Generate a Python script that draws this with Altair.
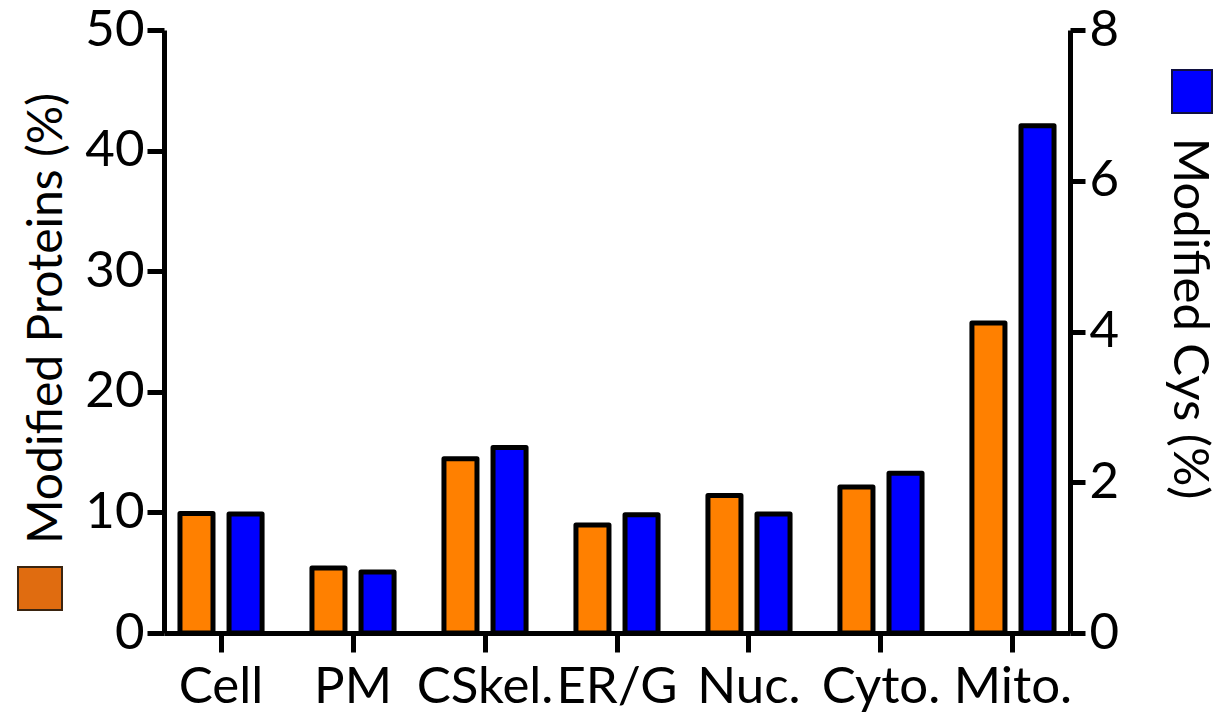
import altair as alt
import pandas as pd

categories = ["Cell", "PM", "CSkel.", "ER/G", "Nuc.", "Cyto.", "Mito."]
modified_proteins = [9.9, 5.4, 14.45, 8.95, 11.4, 12.1, 25.7]   # left axis, %
modified_cys = [1.58, 0.81, 2.46, 1.57, 1.58, 2.12, 6.73]        # right axis, %
left_ticks = [0, 10, 20, 30, 40, 50]
right_ticks = [0, 2, 4, 6, 8]

FONT = "Lato"
ORANGE = "#FF8000"
BLUE = "#0000FF"
LABEL_SIZE = 51
TITLE_SIZE = 48

rows = []
for c, p, y in zip(categories, modified_proteins, modified_cys):
    rows.append({"cat": c, "series": "P", "value": p})
    rows.append({"cat": c, "series": "C", "value": y})
df = pd.DataFrame(rows)

W, H = 906, 603

x_enc = alt.X("cat:N", sort=categories,
              scale=alt.Scale(paddingInner=0.378, paddingOuter=0.121),
              axis=alt.Axis(title=None, labelAngle=0, labelFontSize=LABEL_SIZE, labelFont=FONT,
                            labelColor="black", labelPadding=10, tickSize=19, tickWidth=5,
                            tickColor="black", domainColor="black", domainWidth=5))
xo = alt.XOffset("series:N", scale=alt.Scale(domain=["P", "C"], paddingInner=0.327, paddingOuter=0))

base = alt.Chart(df)

bars_p = base.transform_filter(alt.datum.series == "P").mark_bar(
    color=ORANGE, stroke="black", strokeWidth=5, strokeJoin="round"
).encode(
    x=x_enc, xOffset=xo,
    y=alt.Y("value:Q", scale=alt.Scale(domain=[0, 50], nice=False),
            axis=alt.Axis(values=left_ticks, grid=False, title="Modified Proteins (%)",
                          titleFont=FONT, titleFontSize=TITLE_SIZE, titleFontWeight="normal",
                          titleAngle=-90, titleAlign="center", titleBaseline="middle",
                          titleX=-117, titleY=288, titleColor="black",
                          labelFont=FONT, labelFontSize=LABEL_SIZE, labelColor="black", labelPadding=3,
                          tickSize=17, tickWidth=5, tickColor="black",
                          domainColor="black", domainWidth=5))
)

bars_c = base.transform_filter(alt.datum.series == "C").mark_bar(
    color=BLUE, stroke="black", strokeWidth=5, strokeJoin="round"
).encode(
    x=x_enc, xOffset=xo,
    y=alt.Y("value:Q", scale=alt.Scale(domain=[0, 8], nice=False),
            axis=alt.Axis(orient="right", values=right_ticks, grid=False, title="Modified Cys (%)",
                          titleFont=FONT, titleFontSize=TITLE_SIZE + 1, titleFontWeight="normal",
                          titleAngle=90, titleAlign="center", titleBaseline="middle",
                          titleX=118, titleY=288, titleColor="black",
                          labelFont=FONT, labelFontSize=LABEL_SIZE, labelColor="black", labelPadding=4,
                          tickSize=15, tickWidth=5, tickColor="black",
                          domainColor="black", domainWidth=5))
)

one = pd.DataFrame({"k": [0]})
sq_p = alt.Chart(one).mark_rect(color="#E06C10", stroke="#3a2410", strokeWidth=2).encode(
    x=alt.value(-146), x2=alt.value(-102), y=alt.value(537), y2=alt.value(580))
sq_c = alt.Chart(one).mark_rect(color=BLUE, stroke="#101040", strokeWidth=2).encode(
    x=alt.value(1008), x2=alt.value(1048), y=alt.value(40), y2=alt.value(83))

chart = alt.layer(bars_p, bars_c, sq_p, sq_c).resolve_scale(y="independent").properties(
    width=W, height=H, autosize=alt.AutoSizeParams(type="none"),
    padding={"left": 164, "top": 30, "right": 152, "bottom": 84}
).configure(background="white").configure_view(stroke="white", strokeWidth=3).configure_axis(grid=False)

chart.save("out.html", embed_options={"renderer": "svg", "actions": False})
